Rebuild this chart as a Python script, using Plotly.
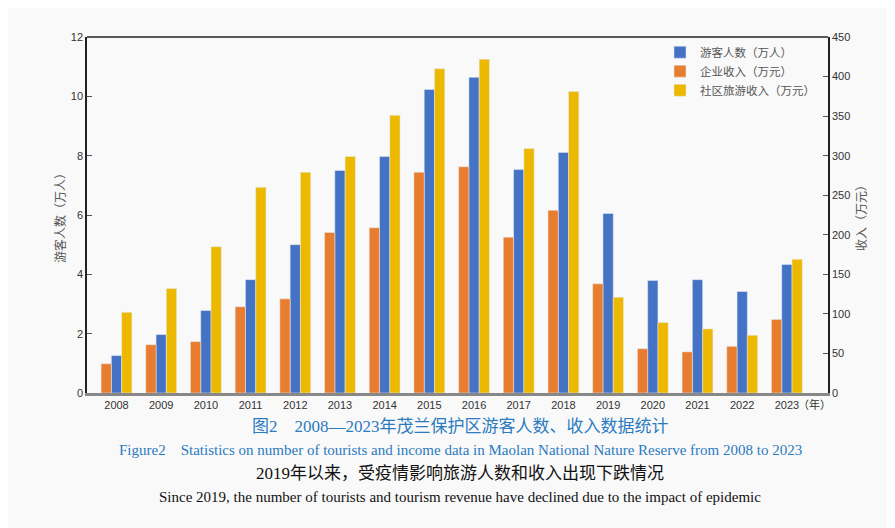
import plotly.graph_objects as go

years = ["2008", "2009", "2010", "2011", "2012", "2013", "2014", "2015",
         "2016", "2017", "2018", "2019", "2020", "2021", "2022", "2023"]
tourists = [1.26, 1.97, 2.78, 3.82, 5.0, 7.5, 7.97, 10.23,
            10.64, 7.53, 8.11, 6.05, 3.79, 3.82, 3.42, 4.33]
enterprise = [37, 61, 65, 109, 119, 203, 209, 279,
              286, 197, 231, 138, 56, 52, 59, 93]
community = [102, 132, 185, 260, 279, 299, 351, 410,
             422, 309, 381, 121, 89, 81, 73, 169]

left_ticks = [0, 2, 4, 6, 8, 10, 12]
right_ticks = [0, 50, 100, 150, 200, 250, 300, 350, 400, 450]

xpos = list(range(len(years)))
bg = "#f9f9f9"
tick_font = dict(family="Liberation Sans, Arial, sans-serif", size=11, color="#333333")
cjk = "Liberation Sans, Noto Sans CJK SC, sans-serif"
serif = "Liberation Serif, Noto Sans CJK SC, serif"

# page offset compensation (browser body margin of 8px)
OFF = 8
PL, PR, PT, PB = 87, 828, 37, 393  # plot area in window pixels
W, H = 895 - OFF, 528 - OFF

fig = go.Figure()
fig.add_trace(go.Bar(x=xpos, y=enterprise, name="企业收入（万元）", marker_color="#E97D2F",
                     yaxis="y2", offsetgroup="a", legendrank=2))
fig.add_trace(go.Bar(x=xpos, y=tourists, name="游客人数（万人）", marker_color="#4472C4",
                     yaxis="y", offsetgroup="b", legendrank=1))
fig.add_trace(go.Bar(x=xpos, y=community, name="社区旅游收入（万元）", marker_color="#ECB800",
                     yaxis="y2", offsetgroup="c", legendrank=3))

fig.update_layout(
    width=W, height=H,
    paper_bgcolor=bg, plot_bgcolor=bg,
    margin=dict(l=PL - OFF, r=W - (PR - OFF), t=PT - OFF, b=H - (PB - OFF)),
    barmode="group", bargap=0.31, bargroupgap=0,
    showlegend=True,
    legend=dict(x=(660 - PL) / (PR - PL), y=0.998, xanchor="left", yanchor="top",
                bgcolor="rgba(0,0,0,0)", tracegroupgap=0,
                font=dict(family=cjk, size=11.5, color="#555555"),
                itemwidth=30),
    xaxis=dict(range=[-0.66, 15.92], tickmode="array", tickvals=xpos, ticktext=years,
               tickfont=tick_font, showgrid=False, zeroline=False,
               showline=True, linecolor="rgba(60,60,60,0.6)", linewidth=3,
               ticks="", layer="above traces"),
    yaxis=dict(range=[0, 12], tickvals=left_ticks, tickfont=tick_font,
               showgrid=False, zeroline=False, showline=True, linecolor="#222222",
               linewidth=1.5, ticks="inside", ticklen=5, tickcolor="#555555",
               title=dict(text="游客人数（万人）", font=dict(family=cjk, size=12, color="#555555"),
                          standoff=3)),
    yaxis2=dict(range=[0, 450], tickvals=right_ticks, overlaying="y", side="right",
                tickfont=tick_font, showgrid=False, zeroline=False, showline=True,
                linecolor="#222222", linewidth=1.5, ticks="inside", ticklen=5,
                tickcolor="#555555",
                title=dict(text="收入（万元）", font=dict(family=cjk, size=12, color="#555555"),
                           standoff=8)),
    shapes=[dict(type="line", xref="paper", yref="paper", x0=0, x1=1, y0=1, y1=1,
                 line=dict(color="#222222", width=1.5))],
)

fig.add_annotation(x=15, y=0, xref="x", yref="paper", yanchor="top", xanchor="left",
                   xshift=9, yshift=-3, showarrow=False, text="（年）",
                   font=dict(family=cjk, size=11, color="#333333"))

captions = [
    ("图2　2008—2023年茂兰保护区游客人数、收入数据统计", "#2B7BC0", 427, 17),
    ("Figure2　Statistics on number of tourists and income data in Maolan National Nature Reserve from 2008 to 2023", "#2B7BC0", 450, 15),
    ("2019年以来，受疫情影响旅游人数和收入出现下跌情况", "#111111", 473, 17),
    ("Since 2019, the number of tourists and tourism revenue have declined due to the impact of epidemic", "#111111", 497, 15),
]
for text, color, ypix, size in captions:
    fig.add_annotation(x=(460 - PL) / (PR - PL), y=(PB - ypix) / (PB - PT),
                       xref="paper", yref="paper",
                       xanchor="center", yanchor="middle", showarrow=False, text=text,
                       font=dict(family=serif, size=size, color=color))

fig.write_html("out.html")
